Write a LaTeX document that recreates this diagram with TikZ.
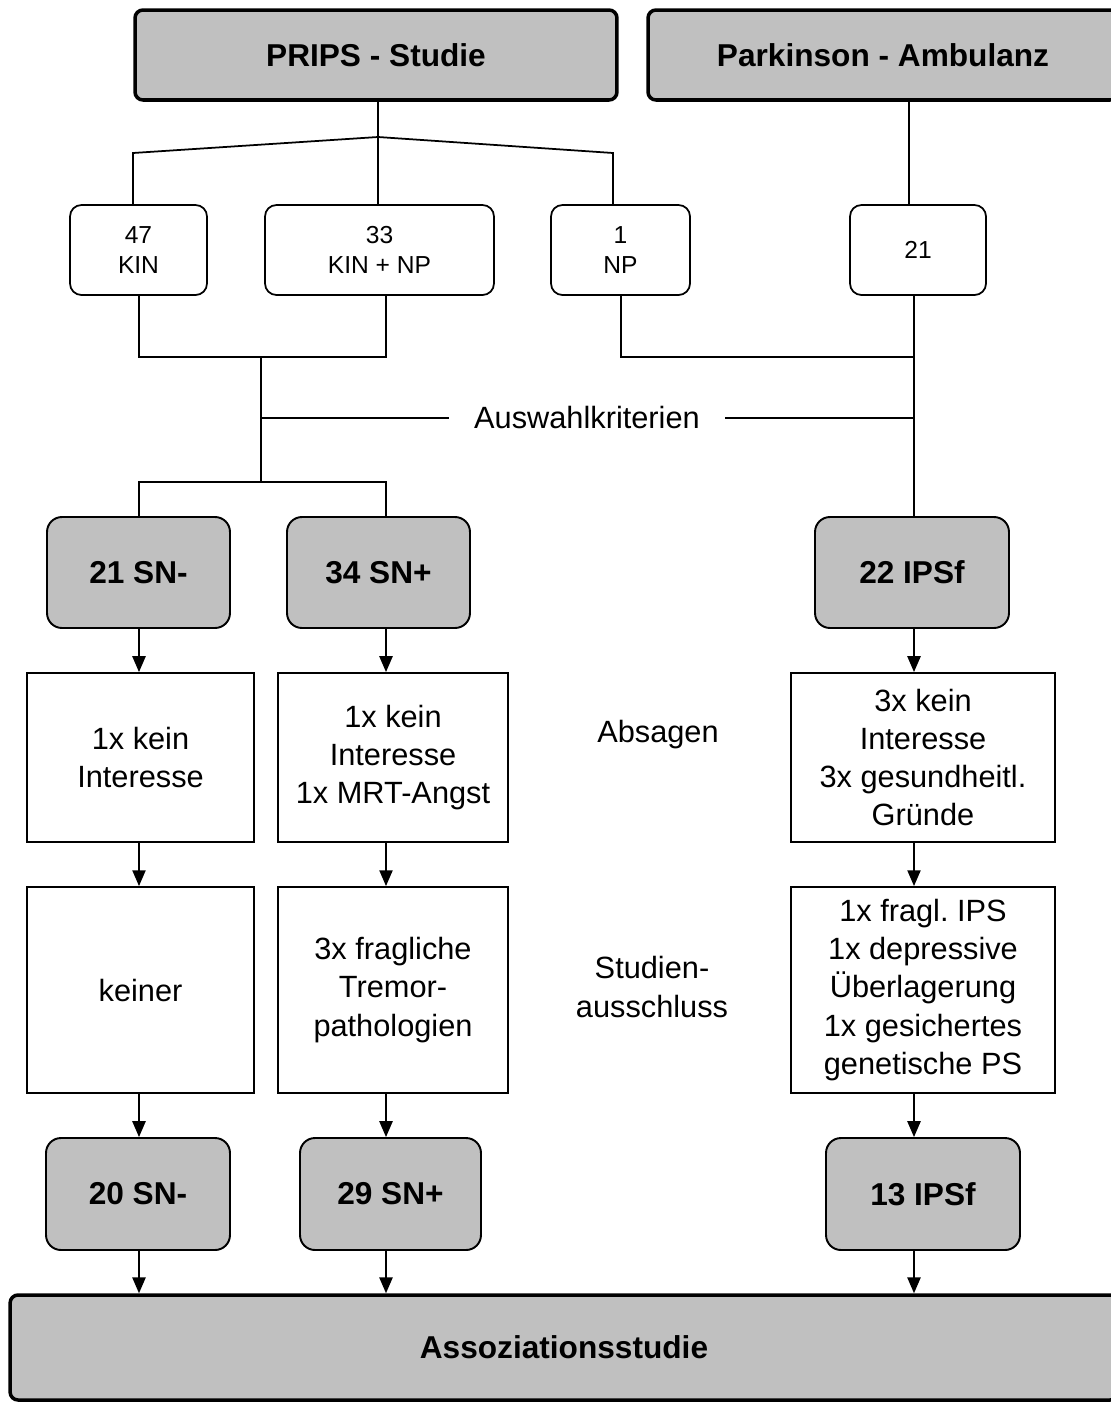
\documentclass[tikz,border=0pt]{standalone}
\usepackage{fontspec}
\setmainfont{Liberation Sans}
\usetikzlibrary{arrows.meta,positioning}
\definecolor{boxgray}{RGB}{192,192,192}

\begin{document}
\begin{tikzpicture}[x=0.02cm, y=-0.02cm,
    headbox/.style={rectangle, draw, rounded corners=4.5pt, line width=2pt, fill=boxgray, inner sep=0pt, font=\fontsize{18}{22}\selectfont\bfseries},
    countbox/.style={rectangle, draw, rounded corners=6.5pt, line width=1pt, fill=white, inner sep=0pt, align=center, font=\fontsize{14}{17.5}\selectfont},
    groupbox/.style={rectangle, draw, rounded corners=8.5pt, line width=1.1pt, fill=boxgray, inner sep=0pt, font=\fontsize{18}{22}\selectfont\bfseries},
    infobox/.style={rectangle, draw, line width=1.1pt, inner sep=0pt, align=center, font=\fontsize{17.5}{21.8}\selectfont},
    note/.style={align=center, font=\fontsize{17.5}{21.8}\selectfont},
    link/.style={line width=1pt},
    flow/.style={line width=1pt, -{Triangle[length=9pt, width=7.5pt]}}]
    \useasboundingbox (0,0) rectangle (1111,1403);

    \node[headbox, minimum width=9.64cm, minimum height=1.8cm] (prips) at (376,55) {PRIPS - Studie};
    \node[headbox, minimum width=9.4cm, minimum height=1.8cm] (park) at (883,55) {Parkinson - Ambulanz};

    \node[countbox, minimum width=2.74cm, minimum height=1.8cm] (kin) at (138.5,250) {47\\KIN};
    \node[countbox, minimum width=4.58cm, minimum height=1.8cm] (kinnp) at (379.5,250) {33\\KIN + NP};
    \node[countbox, minimum width=2.78cm, minimum height=1.8cm] (np) at (620.5,250) {1\\NP};
    \node[countbox, minimum width=2.72cm, minimum height=1.8cm] (amb) at (918,250) {21};

    \node[note, inner xsep=0.5cm] (auswahl) at (587,418) {Auswahlkriterien};

    \node[groupbox, minimum width=3.66cm, minimum height=2.22cm] (snneg) at (138.5,572.5) {21 SN-};
    \node[groupbox, minimum width=3.66cm, minimum height=2.22cm] (snpos) at (378.5,572.5) {34 SN+};
    \node[groupbox, minimum width=3.88cm, minimum height=2.22cm] (ipsf) at (912,572.5) {22 IPSf};

    \node[infobox, minimum width=4.54cm, minimum height=3.38cm] (absneg) at (140.5,757.5) {1x kein\\Interesse};
    \node[infobox, minimum width=4.6cm, minimum height=3.38cm] (abspos) at (393,757.5) {1x kein\\Interesse\\1x MRT-Angst};
    \node[infobox, minimum width=5.28cm, minimum height=3.38cm] (absips) at (923,757.5) {3x kein\\Interesse\\3x gesundheitl.\\Gründe};
    \node[note] (absagen) at (658,735) {Absagen};

    \node[infobox, minimum width=4.54cm, minimum height=4.12cm] (exneg) at (140.5,990) {keiner};
    \node[infobox, minimum width=4.6cm, minimum height=4.12cm] (expos) at (393,990) {3x fragliche\\Tremor-\\pathologien};
    \node[infobox, minimum width=5.28cm, minimum height=4.12cm] (exips) at (923,990) {1x fragl.\ IPS\\1x depressive\\Überlagerung\\1x gesichertes\\genetische PS};
    \node[note] (ausschluss) at (652,987) {Studien-\\ausschluss};

    \node[groupbox, minimum width=3.68cm, minimum height=2.24cm] (endneg) at (138,1194) {20 SN-};
    \node[groupbox, minimum width=3.62cm, minimum height=2.24cm] (endpos) at (390.5,1194) {29 SN+};
    \node[groupbox, minimum width=3.88cm, minimum height=2.24cm] (endips) at (923,1194) {13 IPSf};

    \node[headbox, minimum width=22.16cm, minimum height=2.1cm] (asso) at (564,1347.5) {Assoziationsstudie};

    \coordinate (split) at (378,137);
    \coordinate (lsplit) at (133,153);
    \coordinate (rsplit) at (613,153);
    \coordinate (pstem) at (909,0);
    \coordinate (npcol) at (621,0);
    \coordinate (join) at (261,357);
    \coordinate (fork) at (261,482);
    \coordinate (colA) at (139,0);
    \coordinate (colB) at (386,0);
    \coordinate (colC) at (914,0);

    \draw[link] (prips.south -| split) -- (split) -- (lsplit) -- (lsplit |- kin.north);
    \draw[link] (split) -- (split |- kinnp.north);
    \draw[link] (split) -- (rsplit) -- (rsplit |- np.north);
    \draw[link] (pstem |- park.south) -- (pstem |- amb.north);

    \draw[link] (kin.south -| colA) -- (colA |- join) -- (colB |- join) -- (kinnp.south -| colB);
    \draw[link] (join) -- (fork);
    \draw[link] (npcol |- np.south) -- (npcol |- join) -- (colC |- join);
    \draw[link] (amb.south -| colC) -- (ipsf.north -| colC);
    \draw[link] (join |- auswahl) -- (auswahl.west);
    \draw[link] (auswahl.east) -- (colC |- auswahl);
    \draw[link] (snneg.north -| colA) |- (fork) -| (snpos.north -| colB);

    \draw[flow] (snneg.south -| colA) -- (absneg.north -| colA);
    \draw[flow] (snpos.south -| colB) -- (abspos.north -| colB);
    \draw[flow] (ipsf.south -| colC) -- (absips.north -| colC);
    \draw[flow] (absneg.south -| colA) -- (exneg.north -| colA);
    \draw[flow] (abspos.south -| colB) -- (expos.north -| colB);
    \draw[flow] (absips.south -| colC) -- (exips.north -| colC);
    \draw[flow] (exneg.south -| colA) -- (endneg.north -| colA);
    \draw[flow] (expos.south -| colB) -- (endpos.north -| colB);
    \draw[flow] (exips.south -| colC) -- (endips.north -| colC);
    \draw[flow] (endneg.south -| colA) -- (asso.north -| colA);
    \draw[flow] (endpos.south -| colB) -- (asso.north -| colB);
    \draw[flow] (endips.south -| colC) -- (asso.north -| colC);
\end{tikzpicture}
\end{document}
